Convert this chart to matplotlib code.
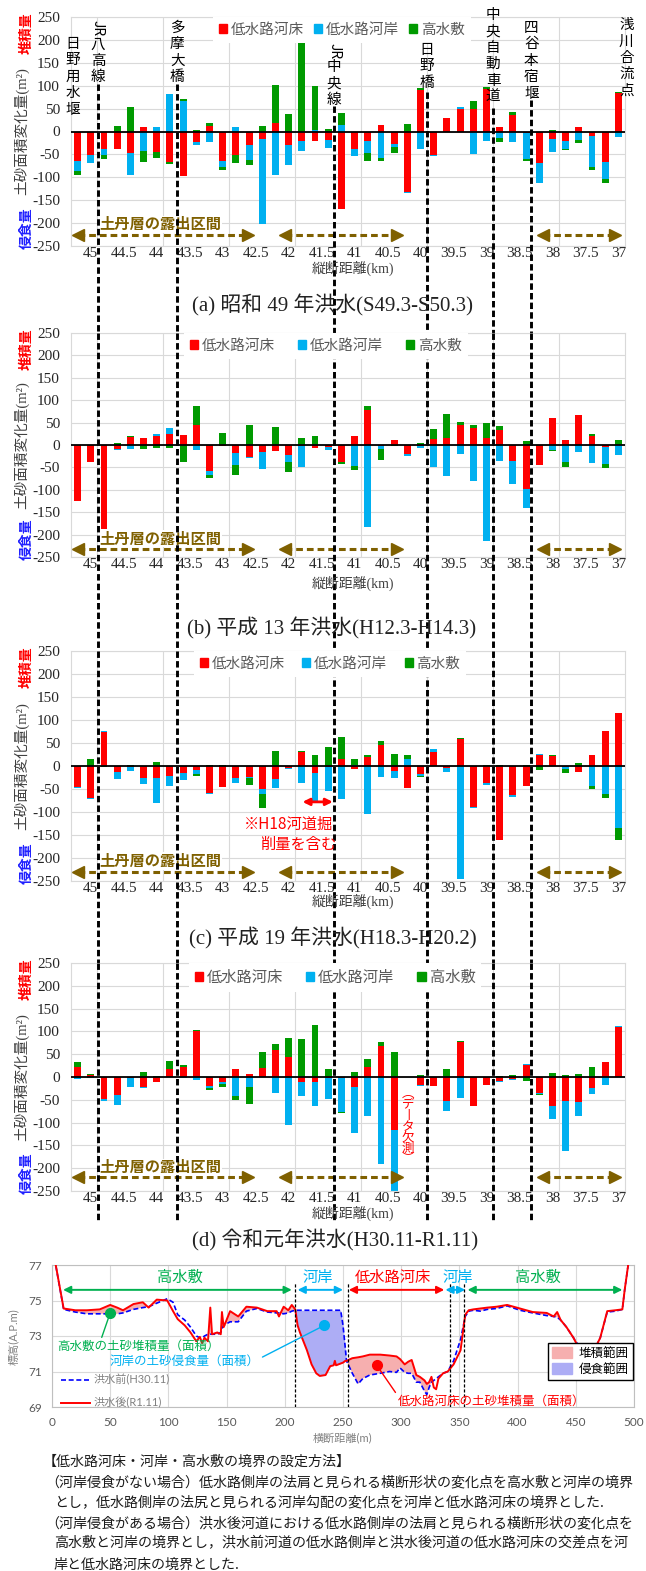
import numpy as np
import matplotlib
matplotlib.use('Agg')
import matplotlib.pyplot as plt
from matplotlib.lines import Line2D
from matplotlib.patches import Patch
from matplotlib.transforms import blended_transform_factory

plt.rcParams['font.family'] = ['Liberation Serif', 'Noto Sans CJK JP']
plt.rcParams['axes.unicode_minus'] = False

W, H = 646, 1571
JP = ['Noto Sans CJK JP']
SANS = ['Lato', 'Noto Sans CJK JP']

# ---- longitudinal change data (m2), 0.2 km pitch ----
km = [45.2, 45.0, 44.8, 44.6, 44.4, 44.2, 44.0, 43.8, 43.6, 43.4, 43.2, 43.0, 42.8, 42.6,
      42.4, 42.2, 42.0, 41.8, 41.6, 41.4, 41.2, 41.0, 40.8, 40.6, 40.4, 40.2, 40.0, 39.8,
      39.6, 39.4, 39.2, 39.0, 38.8, 38.6, 38.4, 38.2, 38.0, 37.8, 37.6, 37.4, 37.2, 37.0]
km_ticks = [45, 44.5, 44, 43.5, 43, 42.5, 42, 41.5, 41, 40.5, 40, 39.5, 39, 38.5, 38, 37.5, 37]
km_ticklabels = ['45', '44.5', '44', '43.5', '43', '42.5', '42', '41.5', '41', '40.5', '40',
                 '39.5', '39', '38.5', '38', '37.5', '37']
km_grid = [44.9, 43.9, 42.9, 41.9, 40.9, 39.9, 38.9, 37.9]

# (a) S49
bed_a = [-65, -52, -38, -39, -47, 10, -45, -66, -98, -23, 12, -64, -52, -29, -17, 18, -29, -21,
         -21, -19, -169, -39, -20, 15, -28, -132, 90, -52, 30, 50, 49, 93, 10, 37, -4, -68, -17,
         -21, 9, -9, -66, 83]
bank_a = [-22, -16, -14, 0, -47, -43, 9, 81, 66, -7, -23, -13, 10, -34, -185, -96, -45, -22, 4,
          -18, 15, -15, -27, -57, -6, -2, -38, -2, 0, 4, -49, -21, -14, -23, -57, -44, -28, -17,
          -19, -69, -37, -12]
high_a = [-7, 0, -8, 11, 54, -24, -13, -5, 4, 4, 7, -6, -16, -11, 12, 84, 38, 212, 95, 6, 26, 0,
          -18, -8, -13, 16, 4, 0, 0, 0, 18, 4, -9, 6, -3, 0, 4, -2, -6, -6, -9, 4]

# (b) H13
bed_b = [-124, -37, -188, -9, 18, 16, 20, 24, 23, 44, -58, -2, -18, -26, -15, -14, -22, -3, -6,
         -4, -38, 20, 78, -3, 12, -20, -3, 13, 16, 45, 39, 16, 33, -35, -98, -44, 60, 12, 66, 21,
         -5, 0]
bank_b = [0, 0, 0, -2, -9, 0, 5, 14, 0, -12, -8, 0, -26, -2, -39, 0, -17, -45, 0, -8, 0, -46,
          -182, -6, 0, -4, -3, -50, -69, -20, -81, -214, -35, -52, -43, 0, -11, -39, -16, -41,
          -37, -22]
high_b = [-2, 0, 0, 4, 2, -8, -6, -6, -38, 44, -8, 27, -23, 45, 0, 41, -22, 16, 20, 0, -4, -10,
          8, -24, -3, 0, 4, 23, 53, 7, 6, 33, 9, 0, 8, 0, -3, -11, 2, 4, -10, 11]

# (c) H19
bed_c = [-45, -69, 74, -14, -3, -27, -26, -22, -15, -9, -58, -45, -27, -24, -51, -28, -4, 30,
         -16, -2, 15, -6, 19, 46, -10, -48, -18, 30, -4, 59, -90, -38, -160, -62, -44, 25, 21,
         -3, -14, 25, 76, 115]
bank_c = [-2, -2, 3, -15, -8, -12, -54, -22, -15, -8, -2, 0, -11, -2, -9, -20, -2, -36, -59,
          -53, -72, 3, -105, -24, -17, 15, -3, 7, -8, -246, -2, -4, 0, -5, 0, 1, 0, -4, 0, -43,
          -60, -134]
high_c = [0, 16, -2, 0, 2, 0, 9, 0, 0, -4, 3, 2, 0, -15, -31, 33, 0, 3, 25, 41, 49, 12, 4, 9,
          27, 8, -3, 0, 0, 2, 0, 3, 2, 0, 3, -8, 2, -9, 7, -6, -9, -27]

# (d) R1 (40.2 km: no data)
bed_d = [23, 4, -48, -39, -2, -21, -10, 18, 23, 100, -19, -12, 18, 7, 20, 59, 43, -10, -11, -3,
         -2, -22, 23, 67, -116, 0, -17, -19, -53, 76, -64, -17, -8, -4, 26, -34, -64, -52, -55,
         -24, 32, 109]
bank_d = [-4, -2, -4, -23, -20, -4, 0, 0, -3, -6, -5, -3, -41, -22, 0, -35, -106, -31, -52, -45,
          -74, -100, -86, -190, -140, 0, -2, 0, -22, -45, 0, 0, -2, -2, 2, -3, -28, -111, -31,
          -13, -18, 2]
high_d = [9, 2, -1, 0, 0, 10, 3, 16, 3, 2, -4, -8, -9, -37, 34, 14, 43, 84, 114, 17, -3, 12, 17,
          9, 54, 0, 5, 0, 17, 2, 0, 0, 3, 5, -8, -2, 8, 4, 7, 21, 0, 0]

series_labels = ['低水路河床', '低水路河岸', '高水敷']
series_colors = ['#FF0000', '#00B0F0', '#009A00']

# landmarks (km) with the pixel row where their dashed line starts
landmark_names = ['JR八高線', '多摩大橋', 'JR中央線', '日野橋', '中央自動車道', '四谷本宿堰']
landmark_km = [44.89, 43.69, 41.31, 39.90, 38.90, 38.32]
landmark_line_top = [84, 84, 106, 92, 108, 100]
landmark_text_top = [28, 28, 51, 50, 15, 28]
edge_names = ['日野用水堰', '浅川合流点']
edge_km = [45.27, 36.88]
edge_text_top = [44, 25]

# exposed bedrock (土丹層) sections
dotan_spans = [(45.2, 42.62), (42.06, 40.36), (38.15, 37.05)]

# ---- cross section (R1 flood) ----
xs_m = [1, 10, 20, 30, 41, 50, 56, 61, 70, 78, 83, 90, 99, 104, 108, 114, 119, 124, 127, 129,
        131, 134, 136, 137.5, 142, 145, 146, 147.5, 153, 160, 167, 176, 185, 193, 195, 199, 203,
        206, 209, 211, 213, 219, 223, 227, 230, 235, 239, 242, 243, 244, 248, 250, 252, 253,
        258, 263, 267, 273, 282, 290, 296, 299, 303, 306, 309, 313, 316, 320, 322, 324, 326,
        328, 330, 332, 336, 340, 345, 351, 355, 358, 362, 368, 374, 382, 391, 402, 413, 425,
        431, 434, 437, 442, 448, 455, 462, 468, 471, 477, 484, 490, 492, 495, 497]
z_after = [77.8, 74.55, 74.45, 74.45, 74.5, 74.75, 74.6, 74.45, 74.8, 74.9, 74.6, 75.05, 75.0,
           74.4, 73.95, 73.6, 73.2, 72.7, 72.95, 72.6, 72.9, 72.7, 74.6, 73.1, 73.2, 73.1, 74.35,
           73.5, 74.4, 74.1, 74.65, 74.6, 74.4, 74.4, 74.1, 74.65, 74.45, 74.75, 74.5, 73.6,
           73.2, 72.2, 71.4, 70.9, 70.75, 70.8, 71.3, 71.35, 71.6, 71.35, 71.45, 71.5, 71.6,
           71.6, 71.75, 71.8, 71.85, 71.95, 71.95, 71.9, 71.85, 71.7, 71.4, 71.55, 71.65, 70.8,
           70.7, 70.5, 70.3, 70.4, 70.7, 70.1, 70.0, 70.6, 70.9, 71.0, 71.4, 72.2, 74.2, 74.45,
           74.5, 74.55, 74.6, 74.65, 74.75, 74.55, 74.35, 74.3, 74.1, 74.35, 73.9, 73.5, 72.9,
           72.0, 71.8, 72.5, 72.9, 74.4, 74.45, 74.5, 75.6, 77.0, 78.0]
z_before = [77.8, 74.5, 74.35, 74.25, 74.25, 74.25, 74.25, 74.3, 74.5, 74.6, 74.65, 74.85, 75.1,
            74.9, 74.2, 73.9, 73.5, 73.0, 72.9, 72.9, 73.0, 73.1, 73.1, 73.1, 73.1, 73.2, 73.4,
            73.6, 73.8, 73.8, 74.4, 74.55, 74.35, 74.3, 74.3, 74.25, 74.3, 74.4, 74.45, 74.45,
            74.45, 74.45, 74.45, 74.45, 74.45, 74.45, 74.45, 74.45, 74.45, 74.45, 74.45, 73.6,
            72.3, 71.6, 70.9, 70.3, 70.6, 70.8, 70.9, 71.0, 70.95, 71.2, 70.95, 70.9, 70.9, 70.4,
            70.4, 69.9, 69.7, 70.1, 70.4, 70.5, 70.6, 70.7, 70.9, 71.0, 71.6, 72.8, 74.1, 74.4,
            74.45, 74.4, 74.5, 74.55, 74.7, 74.45, 74.3, 74.15, 74.1, 74.05, 73.9, 73.5, 72.9,
            72.2, 71.9, 72.5, 72.9, 74.35, 74.4, 74.5, 75.6, 77.0, 78.0]
boundary_m = [209, 254, 342, 354]
zones = [('高水敷', 9.5, 206, '#00B050', 110),
         ('河岸', 211, 250, '#00B0F0', 228),
         ('低水路河床', 255, 337, '#FF0000', 293),
         ('河岸', 338, 355, '#00B0F0', 349),
         ('高水敷', 357, 490, '#00B050', 417)]
note_text = ['高水敷の土砂堆積量（面積）', '河岸の土砂侵食量（面積）', '低水路河床の土砂堆積量（面積）']
note_point = [(50, 74.3), (234, 73.6), (279, 71.35)]
note_text_xy = [(74, 72.4), (114, 71.55), (378, 69.3)]
note_relpos = [(0.27, 1.0), (1.0, 0.75), (0.0, 0.9)]
note_colors = ['#00B050', '#00B0F0', '#FF0000']

method_lines = [
    '【低水路河床・河岸・高水敷の境界の設定方法】',
    '（河岸侵食がない場合）低水路側岸の法肩と見られる横断形状の変化点を高水敷と河岸の境界',
    'とし，低水路側岸の法尻と見られる河岸勾配の変化点を河岸と低水路河床の境界とした.',
    '（河岸侵食がある場合）洪水後河道における低水路側岸の法肩と見られる横断形状の変化点を',
    '高水敷と河岸の境界とし，洪水前河道の低水路側岸と洪水後河道の低水路河床の交差点を河',
    '岸と低水路河床の境界とした.',
]


def box(l, t, r, b):
    return [l / W, 1 - b / H, (r - l) / W, (b - t) / H]


def fy(py):
    return 1 - py / H


fig = plt.figure(figsize=(W / 100, H / 100), dpi=100)

panels = [
    dict(bed=bed_a, bank=bank_a, high=high_a, top=17, bottom=246,
         title='(a) 昭和 49 年洪水(S49.3-S50.3)', title_y=305, title_x=333, xl_y=268,
         leg_cx=342, leg_cs=0.7, leg_fs=10.5, arr_y=-227, txt_y=-203),
    dict(bed=bed_b, bank=bank_b, high=high_b, top=333, bottom=557,
         title='(b) 平成 13 年洪水(H12.3-H14.3)', title_y=628, title_x=332, xl_y=583,
         leg_cx=326, leg_cs=1.6, leg_fs=10.5, arr_y=-232, txt_y=-209),
    dict(bed=bed_c, bank=bank_c, high=high_c, top=651, bottom=881,
         title='(c) 平成 19 年洪水(H18.3-H20.2)', title_y=938, title_x=333, xl_y=901,
         leg_cx=330, leg_cs=1.2, leg_fs=10.5, arr_y=-230, txt_y=-206),
    dict(bed=bed_d, bank=bank_d, high=high_d, top=963, bottom=1191,
         title='(d) 令和元年洪水(H30.11-R1.11)', title_y=1240, title_x=335, xl_y=1213,
         leg_cx=335, leg_cs=1.5, leg_fs=11, arr_y=-220, txt_y=-198),
]

axes = []
for p in panels:
    ax = fig.add_axes(box(71, p['top'], 625, p['bottom']))
    axes.append(ax)
    pos = np.zeros(len(km))
    neg = np.zeros(len(km))
    for vals, color in zip((p['bed'], p['bank'], p['high']), series_colors):
        v = np.asarray(vals, dtype=float)
        base = np.where(v >= 0, pos, neg)
        ax.bar(km, v, width=0.105, bottom=base, color=color, linewidth=0, zorder=2)
        pos += np.clip(v, 0, None)
        neg += np.clip(v, None, 0)
    ax.axhline(0, color='black', lw=1.3, zorder=3)
    ax.set_xlim(45.3, 36.9)
    ax.set_ylim(-250, 250)
    ax.set_yticks(range(-250, 251, 50))
    ax.set_xticks(km_ticks)
    ax.set_xticklabels(km_ticklabels)
    ax.set_xticks(km_grid, minor=True)
    ax.grid(which='minor', axis='x', color='#D9D9D9', lw=0.8, zorder=0)
    ax.grid(which='major', axis='y', color='#D9D9D9', lw=0.8, zorder=0)
    ax.set_axisbelow(True)
    ax.tick_params(which='both', length=0)
    ax.tick_params(axis='x', pad=1, labelsize=11, labelcolor='#262626')
    ax.tick_params(axis='y', pad=8, labelsize=11, labelcolor='#262626')
    for s in ax.spines.values():
        s.set_color('#D9D9D9')
        s.set_linewidth(0.8)

    handles = [Patch(color=c, label=l) for c, l in zip(series_colors, series_labels)]
    leg = ax.legend(handles=handles, ncol=3, loc='upper center',
                    bbox_to_anchor=((p['leg_cx'] - 71) / 554, 1.0), borderaxespad=0,
                    frameon=True, framealpha=1, facecolor='white', edgecolor='none',
                    fancybox=False, handlelength=0.55, handleheight=0.55, handletextpad=0.25,
                    columnspacing=p['leg_cs'], borderpad=0.4,
                    prop=dict(family=JP, size=p['leg_fs']))
    for t in leg.get_texts():
        t.set_color('#595959')
    leg.set_zorder(6)

    # 土丹層の露出区間
    for x0, x1 in dotan_spans:
        ax.plot([x0, x1], [p['arr_y']] * 2, color='#7F6000', lw=2.2,
                dashes=(2.2, 1.3), zorder=3, clip_on=False)
        ax.plot([x0], [p['arr_y']], marker='<', color='#7F6000', ms=8, zorder=3, clip_on=False)
        ax.plot([x1], [p['arr_y']], marker='>', color='#7F6000', ms=8, zorder=3, clip_on=False)
    ax.text(43.95, p['txt_y'], '土丹層の露出区間', family=JP, fontsize=11, fontweight='bold',
            color='#7F6000', ha='center', va='center', zorder=3,
            bbox=dict(facecolor='white', edgecolor='none', pad=0.5))

    # axis labels
    mid = (p['top'] + p['bottom']) / 2
    fig.text(22 / W, fy(mid), '土砂面積変化量(m²)', rotation=90, ha='center', va='center',
             fontsize=10.5, color='#404040')
    fig.text(27 / W, fy(p['top'] + 16), '堆積量', rotation=90, ha='center', va='center',
             family=JP, fontsize=10, fontweight='bold', color='#FF0000')
    fig.text(27 / W, fy(p['bottom'] - 18), '侵食量', rotation=90, ha='center', va='center',
             family=JP, fontsize=10, fontweight='bold', color='#1F1FFF')
    fig.text(353 / W, fy(p['xl_y']), '縦断距離(km)', ha='center', va='center',
             fontsize=10, color='#404040')
    fig.text(p['title_x'] / W, fy(p['title_y']), p['title'], ha='center', va='center',
             fontsize=15, color='#222222')

# long landmark lines, one segment per panel so each legend box sits on top
seg_ends = [panels[1]['top'], panels[2]['top'], panels[3]['top'], 1222]
for i, ax in enumerate(axes):
    tr = blended_transform_factory(ax.transData, fig.transFigure)
    for k, start in zip(landmark_km, landmark_line_top):
        y0 = start if i == 0 else panels[i]['top']
        ln = Line2D([k, k], [fy(y0), fy(seg_ends[i])], transform=tr, color='black',
                    lw=2.1, dashes=(2.2, 1.1), clip_on=False, zorder=4)
        ax.add_artist(ln)

# landmark names written vertically above panel (a)
tr_a = blended_transform_factory(axes[0].transData, fig.transFigure)
step = 16.4
for name, k, top in zip(landmark_names + edge_names, landmark_km + edge_km,
                        landmark_text_top + edge_text_top):
    y = top
    chars = list(name)
    if name.startswith('JR'):
        fig.text(k, fy(y), 'JR', transform=tr_a, rotation=-90, family=JP, fontsize=10,
                 ha='center', va='center', color='black')
        y += step
        chars = chars[2:]
    for ch in chars:
        fig.text(k, fy(y), ch, transform=tr_a, family=JP, fontsize=10.5, ha='center',
                 va='center', color='black')
        y += step

# (c) note on the H18 channel excavation
ax_c = axes[2]
ax_c.annotate('', xy=(41.33, -78), xytext=(41.79, -78),
              arrowprops=dict(arrowstyle='<|-|>', color='#FF0000', lw=2, mutation_scale=10,
                              shrinkA=0, shrinkB=0), zorder=5)
ax_c.text(42.0, -126, '※H18河道掘', family=JP, fontsize=11, color='#FF0000',
          ha='center', va='center', zorder=5)
ax_c.text(41.85, -170, '削量を含む', family=JP, fontsize=11, color='#FF0000',
          ha='center', va='center', zorder=5)

# (d) missing data at 40.2 km
ax_d = axes[3]
for i, ch in enumerate(['︵', 'デ', '丨', 'タ', '欠', '測', '︶']):
    ax_d.text(40.19, -36 - 24 * i, ch, family=JP, fontsize=9, color='#FF0000',
              ha='center', va='center', zorder=5)

# ---- cross section ----
ax_e = fig.add_axes(box(52, 1265, 634, 1407))
xs = np.asarray(xs_m, dtype=float)
za = np.asarray(z_after, dtype=float)
zb = np.asarray(z_before, dtype=float)
ax_e.fill_between(xs, zb, za, where=za >= zb, interpolate=True, color='#F6AFAF', lw=0,
                  zorder=1)
ax_e.fill_between(xs, zb, za, where=(zb > za) & (xs >= 205) & (xs <= 256), interpolate=True,
                  color='#ADADF5', lw=0, zorder=1)
ax_e.plot(xs, zb, color='#0000FF', lw=1.2, ls=(0, (3, 1.6)), zorder=3)
ax_e.plot(xs, za, color='#FF0000', lw=1.4, zorder=3)
for b in boundary_m:
    ax_e.plot([b, b], [69, 76], color='black', lw=0.9, ls=(0, (2.5, 1.5)), zorder=4)
for label, x0, x1, c, tx in zones:
    ax_e.annotate('', xy=(x1, 75.6), xytext=(x0, 75.6),
                  arrowprops=dict(arrowstyle='<|-|>', color=c, lw=1.4, mutation_scale=11,
                                  shrinkA=0, shrinkB=0), zorder=5)
    ax_e.text(tx, 76.3, label, family=JP, fontsize=11, color=c, ha='center', va='center',
              zorder=5)
for txt, pt, txy, rp, c in zip(note_text, note_point, note_text_xy, note_relpos, note_colors):
    ax_e.plot(*pt, 'o', color=c, ms=7, zorder=6)
    ax_e.annotate(txt, xy=pt, xytext=txy, family=JP, fontsize=9, color=c, ha='center',
                  va='center', annotation_clip=False, zorder=6,
                  arrowprops=dict(arrowstyle='-', color=c, lw=1, relpos=rp,
                                  shrinkA=0, shrinkB=0))
ax_e.set_xlim(0, 500)
ax_e.set_ylim(69, 77)
ax_e.set_xticks(range(0, 501, 50))
ax_e.set_yticks(range(69, 78, 2))
ax_e.grid(color='#D9D9D9', lw=0.8, zorder=0)
ax_e.set_axisbelow(True)
ax_e.tick_params(length=0, labelsize=8.5, labelcolor='#595959', pad=7)
for lab in ax_e.get_xticklabels() + ax_e.get_yticklabels():
    lab.set_family(SANS)
for s in ax_e.spines.values():
    s.set_color('#BFBFBF')
    s.set_linewidth(0.8)

line_leg = ax_e.legend(handles=[Line2D([], [], color='#0000FF', lw=1.2, ls=(0, (3, 1.6))),
                                Line2D([], [], color='#FF0000', lw=1.4)],
                       labels=['洪水前(H30.11)', '洪水後(R1.11)'], loc='lower left',
                       bbox_to_anchor=(0.016, -0.01), borderaxespad=0, borderpad=0,
                       frameon=False, handlelength=2.6, handletextpad=0.3, labelspacing=1.05,
                       prop=dict(family=SANS, size=8))
for t in line_leg.get_texts():
    t.set_color('#808080')
ax_e.add_artist(line_leg)
area_leg = ax_e.legend(handles=[Patch(color='#F6AFAF'), Patch(color='#ADADF5')],
                       labels=['堆積範囲', '侵食範囲'], loc='lower right',
                       bbox_to_anchor=(0.998, 0.19), borderaxespad=0, frameon=True,
                       fancybox=False, framealpha=1, edgecolor='black',
                       handlelength=1.6, handleheight=1.0, handletextpad=0.5, labelspacing=0.2,
                       borderpad=0.35, prop=dict(family=JP, size=9))
area_leg.get_frame().set_linewidth(1.0)
area_leg.set_zorder(7)

fig.text(13 / W, fy(1337), '標高(A.P.m)', rotation=90, ha='center', va='center',
         family=SANS, fontsize=8, color='#808080')
fig.text(342 / W, fy(1438), '横断距離(m)', ha='center', va='center', family=SANS,
         fontsize=8, color='#808080')

# ---- notes ----
note_x = [43, 45, 54, 45, 54, 54]
note_y = [1462, 1482, 1502, 1523, 1543, 1565]
for s, x, y in zip(method_lines, note_x, note_y):
    fig.text(x / W, fy(y), s, ha='left', va='center', family=JP, fontsize=10.1,
             color='#1A1A1A')

fig.savefig('out.png', dpi=100)
